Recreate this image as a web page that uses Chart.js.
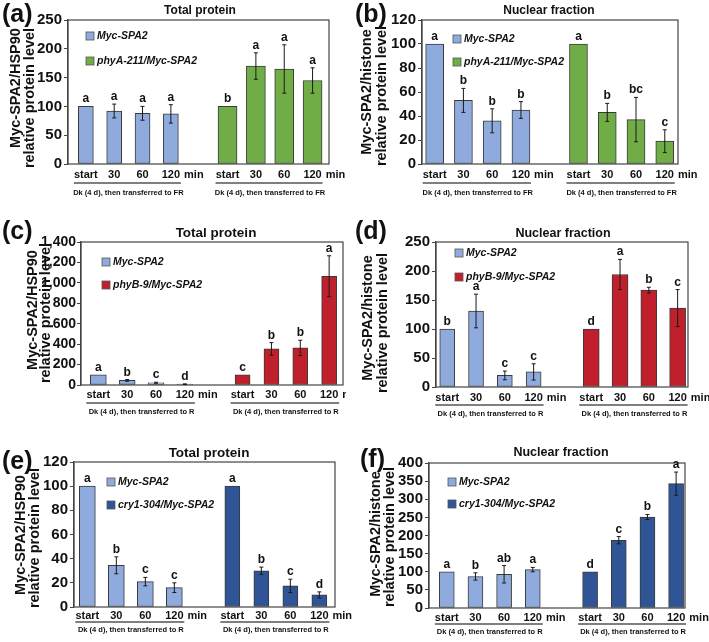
<!DOCTYPE html>
<html><head><meta charset="utf-8">
<script src="https://cdn.jsdelivr.net/npm/chart.js@4"></script>
<style>
html,body{margin:0;padding:0;background:#fff;}
#wrap{position:relative;width:709px;height:642px;overflow:hidden;background:#fff;}
canvas{position:absolute;left:0;top:0;}
</style></head><body><div id="wrap">
<canvas id="pa" width="709" height="642"></canvas>
<canvas id="pb" width="709" height="642"></canvas>
<canvas id="pc" width="709" height="642"></canvas>
<canvas id="pd" width="709" height="642"></canvas>
<canvas id="pe" width="709" height="642"></canvas>
<canvas id="pf" width="709" height="642"></canvas>
</div>
<script>
// ---------- DATA ----------
const timeLabels = ['start', '30', '60', '120'];
const timeUnit = 'min';
const treatFR = 'Dk (4 d), then transferred to FR';
const treatR = 'Dk (4 d), then transferred to R';
const nameWT = 'Myc-SPA2';
const namePhyA = 'phyA-211/Myc-SPA2';
const namePhyB = 'phyB-9/Myc-SPA2';
const nameCry1 = 'cry1-304/Myc-SPA2';
const titleTotal = 'Total protein';
const titleNuclear = 'Nuclear fraction';
const yTitleHSP = ['Myc-SPA2/HSP90', 'relative protein level'];
const yTitleHis = ['Myc-SPA2/histone', 'relative protein level'];

// (a) total protein, FR
const aWT = [100, 92, 88, 87];
const aWTErr = [0, 12, 12, 16];
const aWTLet = ['a', 'a', 'a', 'a'];
const aMut = [100, 170, 165, 145];
const aMutErr = [0, 23, 42, 22];
const aMutLet = ['b', 'a', 'a', 'a'];
// (b) nuclear fraction, FR
const bWT = [100, 53, 36, 45];
const bWTErr = [0, 10, 10, 7];
const bWTLet = ['a', 'b', 'b', 'b'];
const bMut = [100, 43, 37, 19];
const bMutErr = [0, 7.5, 18.5, 9.5];
const bMutLet = ['a', 'b', 'bc', 'c'];
// (c) total protein, R
const cWT = [100, 45, 22, 8];
const cWTErr = [0, 8, 5, 3];
const cWTLet = ['a', 'b', 'c', 'd'];
const cMut = [100, 353, 363, 1065];
const cMutErr = [0, 62, 75, 200];
const cMutLet = ['c', 'b', 'b', 'a'];
// (d) nuclear fraction, R
const dWT = [100, 131, 20, 26];
const dWTErr = [0, 29, 7.5, 14];
const dWTLet = ['b', 'a', 'c', 'c'];
const dMut = [100, 194, 167, 136];
const dMutErr = [0, 26, 5, 32];
const dMutLet = ['d', 'a', 'b', 'c'];
// (e) total protein, R
const eWT = [100, 34.5, 21, 16];
const eWTErr = [0, 7, 3.5, 4];
const eWTLet = ['a', 'b', 'c', 'c'];
const eMut = [100, 30, 17.5, 10];
const eMutErr = [0, 3, 5.5, 2.5];
const eMutLet = ['a', 'b', 'c', 'd'];
// (f) nuclear fraction, R
const fWT = [100, 87, 93, 106];
const fWTErr = [0, 10, 24, 6];
const fWTLet = ['a', 'b', 'ab', 'a'];
const fMut = [100, 187, 251, 343];
const fMutErr = [0, 10, 7, 32];
const fMutLet = ['d', 'c', 'b', 'a'];

const ySteps = { a: [250, 50], b: [120, 20], c: [1400, 200], d: [250, 50], e: [120, 20], f: [400, 50] };

// ---------- STYLE ----------
const FONT = "'Liberation Sans', Arial, sans-serif";
const C_LBLUE = '#8FAADC';
const C_GREEN = '#70AD47';
const C_RED = '#C0202C';
const C_DBLUE = '#2F5597';
const C_EDGE = '#3a3a3a';
const C_TXT = '#111111';
const YAXIS_W = 60;

const xs1 = [0, 1, 2, 3];
const xs2 = [5, 6, 7, 8];

const panelPlugin = {
  id: 'panelDeco',
  afterDatasetsDraw(chart) {
    const ctx = chart.ctx;
    const ca = chart.chartArea;
    const xS = chart.scales.x, yS = chart.scales.y;
    ctx.save();
    ctx.strokeStyle = '#444';
    ctx.lineWidth = 1.2;
    ctx.strokeRect(ca.left, ca.top, ca.right - ca.left, ca.bottom - ca.top);
    chart.data.datasets.forEach((ds) => {
      ds.data.forEach((pt, i) => {
        const x = xS.getPixelForValue(pt.x);
        const e = ds.errs[i];
        let topY = yS.getPixelForValue(pt.y);
        if (e > 0) {
          const y1 = yS.getPixelForValue(pt.y + e);
          const y0 = yS.getPixelForValue(pt.y - e);
          ctx.strokeStyle = '#1a1a1a';
          ctx.lineWidth = 1;
          ctx.beginPath();
          ctx.moveTo(x, y0); ctx.lineTo(x, y1);
          ctx.moveTo(x - 2, y0); ctx.lineTo(x + 2, y0);
          ctx.moveTo(x - 2, y1); ctx.lineTo(x + 2, y1);
          ctx.stroke();
          topY = Math.min(topY, y1);
        }
        ctx.fillStyle = C_TXT;
        ctx.font = 'bold 12px ' + FONT;
        ctx.textAlign = 'center';
        ctx.textBaseline = 'alphabetic';
        ctx.fillText(ds.lets[i], x, topY - 4);
      });
    });
    ctx.restore();
  },
  afterDraw(chart) {
    const P = chart.options.plugins.panelDeco;
    const ctx = chart.ctx;
    const xS = chart.scales.x;
    ctx.save();
    ctx.fillStyle = C_TXT;
    ctx.textBaseline = 'middle';
    ctx.font = 'bold 25px ' + FONT;
    ctx.textAlign = 'left';
    ctx.fillText(P.tag, P.tagX, P.tagY);
    ctx.font = 'bold ' + P.titleSize + 'px ' + FONT;
    ctx.textAlign = 'center';
    ctx.fillText(P.title, P.titleX, P.titleY);
    ctx.font = 'bold 14.5px ' + FONT;
    P.yTitle.forEach((t, k) => {
      ctx.save();
      ctx.translate(P.yTX[k], P.yTY[k]);
      ctx.rotate(-Math.PI / 2);
      ctx.textAlign = 'center';
      ctx.fillText(t, 0, 0);
      ctx.restore();
    });
    chart.data.datasets.forEach((ds, k) => {
      const yy = P.legY[k];
      ctx.fillStyle = ds.backgroundColor;
      ctx.fillRect(P.legX, yy - 4, 8, 8);
      ctx.strokeStyle = '#555';
      ctx.lineWidth = 0.8;
      ctx.strokeRect(P.legX, yy - 4, 8, 8);
      ctx.fillStyle = C_TXT;
      ctx.font = 'italic bold 10.5px ' + FONT;
      ctx.textAlign = 'left';
      ctx.fillText(ds.label, P.legX + 11, yy + 0.5);
    });
    [xs1, xs2].forEach((xs) => {
      ctx.save();
      if (P.clipRight) {
        ctx.beginPath();
        ctx.rect(0, 0, P.clipRight, 642);
        ctx.clip();
      }
      ctx.fillStyle = C_TXT;
      ctx.font = 'bold 11px ' + FONT;
      ctx.textBaseline = 'middle';
      xs.forEach((xv, i) => {
        const px = xS.getPixelForValue(xv);
        ctx.textAlign = 'center';
        ctx.fillText(timeLabels[i], px, P.xLabY);
        if (i === xs.length - 1) {
          const w = ctx.measureText(timeLabels[i]).width;
          ctx.textAlign = 'left';
          ctx.fillText(timeUnit, px + w / 2 + 4, P.xLabY);
        }
      });
      ctx.restore();
      const x0 = xS.getPixelForValue(xs[0]);
      const x3 = xS.getPixelForValue(xs[xs.length - 1]);
      ctx.strokeStyle = '#555';
      ctx.lineWidth = 1.3;
      ctx.beginPath();
      ctx.moveTo(x0 - 12, P.lineY);
      ctx.lineTo(x3 + 10, P.lineY);
      ctx.stroke();
      ctx.fillStyle = C_TXT;
      ctx.font = 'bold 7.5px ' + FONT;
      ctx.textAlign = 'center';
      ctx.fillText(P.treat, (x0 + x3) / 2, P.dkY);
    });
    ctx.restore();
  }
};

function makePanel(id, key, P) {
  const [ymax, step] = ySteps[key];
  new Chart(document.getElementById(id), {
    type: 'bar',
    data: {
      datasets: [
        { label: P.n1, data: P.v1.map((v, i) => ({ x: xs1[i], y: v })), errs: P.e1, lets: P.l1,
          backgroundColor: P.c1, borderColor: C_EDGE, borderWidth: 1, barThickness: P.bw1, grouped: false, borderSkipped: false },
        { label: P.n2, data: P.v2.map((v, i) => ({ x: xs2[i], y: v })), errs: P.e2, lets: P.l2,
          backgroundColor: P.c2, borderColor: C_EDGE, borderWidth: 1, barThickness: P.bw2, grouped: false, borderSkipped: false }
      ]
    },
    options: {
      responsive: false,
      animation: false,
      devicePixelRatio: 1,
      layout: { padding: { left: P.L - YAXIS_W, top: P.T, right: 709 - P.R, bottom: 642 - P.B } },
      plugins: {
        legend: { display: false },
        tooltip: { enabled: false },
        title: { display: false },
        panelDeco: P
      },
      scales: {
        x: { type: 'linear', min: P.xmin, max: P.xmax, offset: false, display: false },
        y: {
          min: 0, max: ymax,
          afterFit: (s) => { s.width = YAXIS_W; },
          ticks: { stepSize: step, autoSkip: false, color: C_TXT, padding: P.tickPad || 2, font: { family: FONT, size: P.tickSize || 15, weight: 'bold' } },
          grid: { drawOnChartArea: false, drawTicks: true, tickLength: 4, color: '#444', lineWidth: 1 },
          border: { display: true, color: '#444', width: 1.2 }
        }
      }
    },
    plugins: [panelPlugin]
  });
}

makePanel('pa', 'a', {
  L: 68, R: 329, T: 20, B: 164, xmin: -0.63, xmax: 8.58,
  v1: aWT, e1: aWTErr, l1: aWTLet, n1: nameWT, c1: C_LBLUE, bw1: 15,
  v2: aMut, e2: aMutErr, l2: aMutLet, n2: namePhyA, c2: C_GREEN, bw2: 19,
  tag: '(a)', tagX: 2, tagY: 15, title: titleTotal, titleX: 200, titleY: 11, titleSize: 12,
  yTitle: yTitleHSP, yTX: [16, 30], yTY: [88, 98], legX: 86, legY: [36, 61],
  xLabY: 175, lineY: 183, dkY: 193, treat: treatFR
});
makePanel('pb', 'b', {
  L: 422, R: 678, T: 20, B: 164, xmin: -0.44, xmax: 8.46,
  v1: bWT, e1: bWTErr, l1: bWTLet, n1: nameWT, c1: C_LBLUE, bw1: 18,
  v2: bMut, e2: bMutErr, l2: bMutLet, n2: namePhyA, c2: C_GREEN, bw2: 18,
  tag: '(b)', tagX: 355, tagY: 15, title: titleNuclear, titleX: 549, titleY: 11, titleSize: 12,
  yTitle: yTitleHis, yTX: [367, 382], yTY: [92, 96], legX: 453, legY: [39, 62],
  xLabY: 175, lineY: 183, dkY: 193, treat: treatFR
});
makePanel('pc', 'c', {
  L: 81, R: 343, T: 242, B: 385, xmin: -0.6, xmax: 8.48,
  v1: cWT, e1: cWTErr, l1: cWTLet, n1: nameWT, c1: C_LBLUE, bw1: 16,
  v2: cMut, e2: cMutErr, l2: cMutLet, n2: namePhyB, c2: C_RED, bw2: 15,
  tag: '(c)', tagX: 2, tagY: 232, title: titleTotal, titleX: 216, titleY: 233, titleSize: 13.5,
  yTitle: yTitleHSP, yTX: [33, 46], yTY: [310, 313], legX: 102, legY: [262, 285],
  xLabY: 395, lineY: 403, dkY: 412, treat: treatR, clipRight: 346, tickSize: 14, tickPad: 1
});
makePanel('pd', 'd', {
  L: 436, R: 688, T: 242, B: 387, xmin: -0.39, xmax: 8.36,
  v1: dWT, e1: dWTErr, l1: dWTLet, n1: nameWT, c1: C_LBLUE, bw1: 15,
  v2: dMut, e2: dMutErr, l2: dMutLet, n2: namePhyB, c2: C_RED, bw2: 16,
  tag: '(d)', tagX: 355, tagY: 232, title: titleNuclear, titleX: 563, titleY: 234, titleSize: 12.5,
  yTitle: yTitleHis, yTX: [368, 383], yTY: [318, 323], legX: 455, legY: [253, 277],
  xLabY: 398, lineY: 405, dkY: 414, treat: treatR
});
makePanel('pe', 'e', {
  L: 74, R: 335, T: 462, B: 607, xmin: -0.46, xmax: 8.54,
  v1: eWT, e1: eWTErr, l1: eWTLet, n1: nameWT, c1: C_LBLUE, bw1: 16,
  v2: eMut, e2: eMutErr, l2: eMutLet, n2: nameCry1, c2: C_DBLUE, bw2: 15,
  tag: '(e)', tagX: 2, tagY: 462, title: titleTotal, titleX: 209, titleY: 453, titleSize: 13.5,
  yTitle: yTitleHSP, yTX: [21, 35], yTY: [535, 538], legX: 107, legY: [482, 505],
  xLabY: 616, lineY: 622, dkY: 630, treat: treatR
});
makePanel('pf', 'f', {
  L: 429, R: 685, T: 463, B: 608, xmin: -0.62, xmax: 8.31,
  v1: fWT, e1: fWTErr, l1: fWTLet, n1: nameWT, c1: C_LBLUE, bw1: 15,
  v2: fMut, e2: fMutErr, l2: fMutLet, n2: nameCry1, c2: C_DBLUE, bw2: 15,
  tag: '(f)', tagX: 360, tagY: 460, title: titleNuclear, titleX: 561, titleY: 453, titleSize: 12.5,
  yTitle: yTitleHis, yTX: [376, 390], yTY: [534, 537], legX: 448, legY: [482, 504],
  xLabY: 618, lineY: 624, dkY: 632, treat: treatR
});
</script>
</body></html>
